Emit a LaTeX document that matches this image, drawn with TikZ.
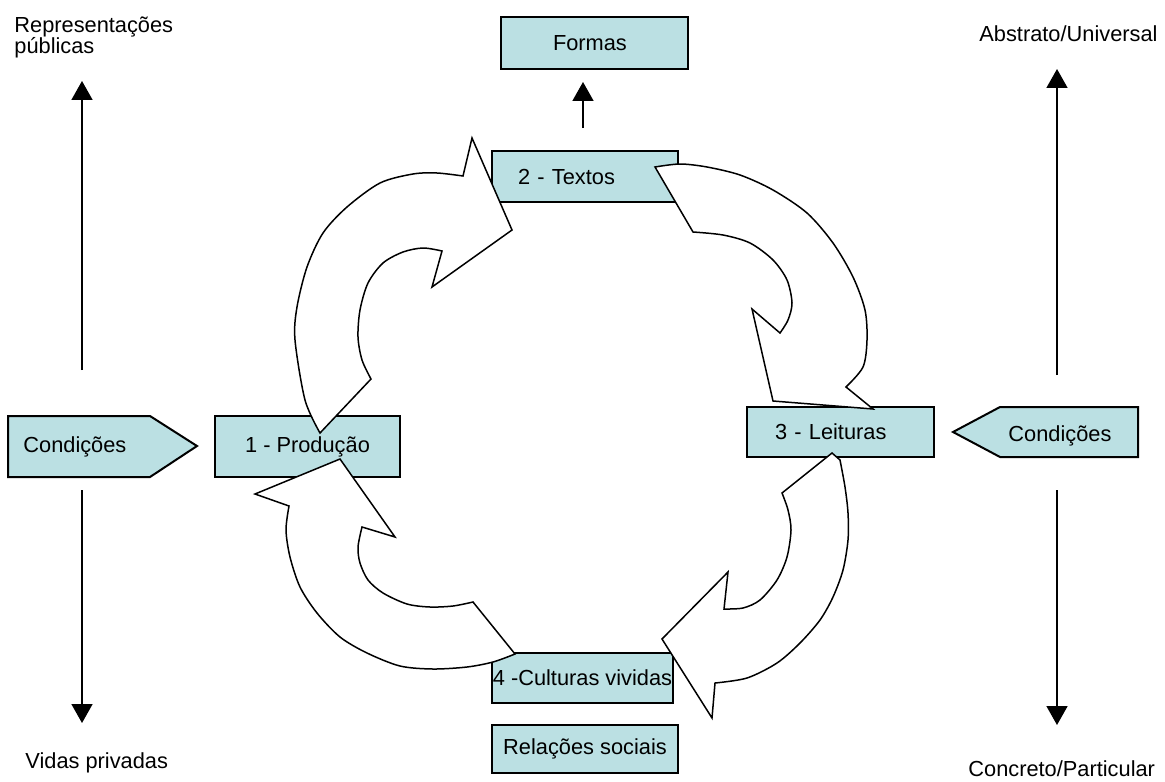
\documentclass[tikz,border=0pt]{standalone}
\usepackage{fontspec}
\setmainfont{Liberation Sans}
\usetikzlibrary{arrows.meta}
\definecolor{caixaazul}{RGB}{187,224,227}
\begin{document}
\begin{tikzpicture}[x=0.5pt,y=-0.5pt,
    txt/.style={font=\fontsize{10.9}{10.8}\selectfont},
    caixa/.style={draw,line width=1pt,fill=caixaazul,txt,inner ysep=0pt},
    seta/.style={line width=0.85pt,-{Triangle[length=9.5pt,width=10.5pt]}},
    curva/.style={draw,fill=white,line width=0.75pt}]
\useasboundingbox (0,0) rectangle (1165,781);
% caixas
\node[caixa,minimum height=26pt,inner xsep=26pt,text width=41.5pt,align=left] (formas) at (594.5,43) {Formas};
\node[caixa,minimum height=25.5pt,inner xsep=13pt,text width=67pt,align=left] (textos) at (585,176.5) {2 - Textos};
\node[caixa,minimum width=92.5pt,minimum height=30.5pt,inner xsep=0pt] (producao) at (307.5,446.5) {1 - Produção};
\node[caixa,minimum height=25pt,inner xsep=14pt,text width=65.5pt,align=left] (leituras) at (840.5,432) {3 - Leituras};
\node[caixa,minimum width=90.5pt,minimum height=25pt,inner xsep=0pt] (culturas) at (582.5,678) {4 -Culturas vividas};
\node[caixa,minimum width=93pt,minimum height=24pt,inner xsep=0pt] (relacoes) at (585,749) {Relações sociais};
% condicoes
\draw[line width=1pt,fill=caixaazul] (8,416) -- (150,416) -- (197,446) -- (150,477) -- (8,477) -- cycle;
\node[txt,anchor=base west,inner sep=0pt] (condesq) at (23,452) {Condições};
\draw[line width=1pt,fill=caixaazul] (953,432) -- (1000,407) -- (1138,407) -- (1138,457) -- (1000,457) -- cycle;
\node[txt,anchor=base west,inner sep=0pt] (conddir) at (1008,441) {Condições};
% textos laterais
\node[txt,anchor=base west,align=left,inner sep=0pt] (publicas) at (14,54) {Representações\\públicas};
\node[txt,anchor=base west,inner sep=0pt] (privadas) at (25,768) {Vidas privadas};
\node[txt,anchor=base west,inner sep=0pt] (abstrato) at (979,42) {Abstrato/Universal};
\node[txt,anchor=base west,inner sep=0pt] (concreto) at (968,776) {Concreto/Particular};
% setas verticais
\coordinate (e1) at (82,370);
\coordinate (e2) at (82,81);
\coordinate (e3) at (82,490);
\coordinate (e4) at (82,723);
\coordinate (d1) at (1057,375);
\coordinate (d2) at (1057,69);
\coordinate (d3) at (1057,490);
\coordinate (d4) at (1057,725);
\draw[seta] (e1) -- (e2);
\draw[seta] (e3) -- (e4);
\draw[seta] (d1) -- (d2);
\draw[seta] (d3) -- (d4);
\draw[seta,shorten <=11pt,shorten >=6pt] ([xshift=-1pt]textos.north) -- ([xshift=-1pt]textos.north |- formas.south);
% setas curvas
\draw[curva] plot[smooth] coordinates {(320,433) (305,400) (295,340) (297,307) (307,267) (323,233) (347,207) (380,183) (413,174) (437,173) (463,176)}
  -- (472,138) -- (512,230) -- (432,287)
  -- plot[smooth] coordinates {(442,251) (423,248) (403,252) (383,263) (368,283) (360,310) (358,337) (362,360) (371,379)} -- cycle;
\draw[curva] plot[smooth] coordinates {(655,167) (680,164) (707,167) (740,175) (773,190) (807,213) (833,243) (853,277) (865,310) (867,340) (863,367) (846,387)}
  -- (873,409) -- (773,401) -- (752,309)
  -- plot[smooth] coordinates {(780,333) (788,320) (792,303) (787,280) (773,260) (750,243) (723,235) (693,232)} -- cycle;
\draw[curva] (832,453) -- plot[smooth] coordinates {(840,460) (845,487) (848,513) (848,540) (843,570) (833,597) (820,620) (800,643) (777,663) (747,678) (715,683)}
  -- (712,718) -- (662,639) -- (728,572)
  -- plot[smooth] coordinates {(724,609) (743,608) (760,600) (777,580) (787,557) (791,530) (788,510) (782,493)} -- cycle;
\draw[curva] plot[smooth] coordinates {(515,654) (493,662) (467,667) (433,669) (400,666) (367,653) (340,637) (317,613) (300,587) (290,557) (286,530) (289,506)}
  -- (255,494) -- (340,459) -- (395,537)
  -- plot[smooth] coordinates {(362,527) (358,547) (360,563) (368,580) (383,593) (407,604) (430,607) (453,606) (473,602)} -- cycle;
\end{tikzpicture}
\end{document}
